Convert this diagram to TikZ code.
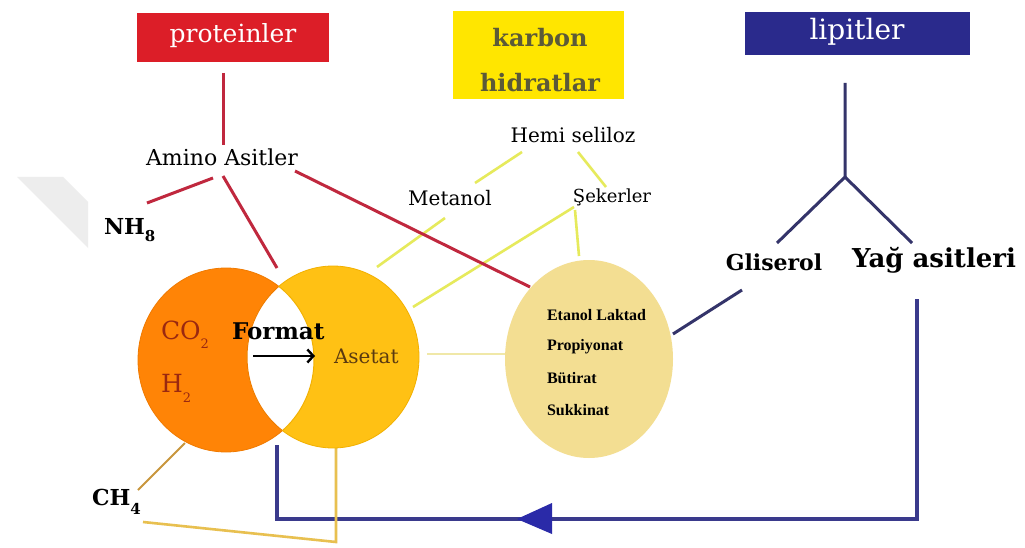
\documentclass[tikz,border=0pt]{standalone}
\usepackage{fontspec}
\setmainfont{DejaVu Serif}
\newfontfamily\timesf{Liberation Serif}
\usetikzlibrary{shapes.geometric,arrows.meta}
\definecolor{protRed}{HTML}{DC1E28}
\definecolor{karbYel}{HTML}{FFE600}
\definecolor{lipBlue}{HTML}{2A2A8C}
\definecolor{lnRed}{HTML}{C0283E}
\definecolor{lnYel}{HTML}{E6EA5C}
\definecolor{lnPale}{HTML}{F0E8A8}
\definecolor{lnNavy}{HTML}{34346A}
\definecolor{lnLoop}{HTML}{3A3A8C}
\definecolor{arrBlue}{HTML}{2A2AA8}
\definecolor{ellFill}{HTML}{F3DE92}
\definecolor{orgFill}{HTML}{FF8406}
\definecolor{orgLine}{HTML}{F07A00}
\definecolor{gldFill}{HTML}{FFC114}
\definecolor{gldLine}{HTML}{F2B000}
\definecolor{ch4Brown}{HTML}{C8963C}
\definecolor{ch4Gold}{HTML}{E8C050}
\definecolor{co2Red}{HTML}{9A2810}
\definecolor{asBrown}{HTML}{5A3A10}
\definecolor{karbTxt}{HTML}{5C5A38}
\newcommand{\fs}[1]{\fontsize{#1}{#1}\selectfont}
\tikzset{
  lbl/.style={inner sep=0pt, outer sep=0pt},
  titlebox/.style={rectangle, inner sep=0pt, outer sep=0pt},
  redln/.style={draw=lnRed, line width=3pt},
  yelln/.style={draw=lnYel, line width=2.6pt},
  navyln/.style={draw=lnNavy, line width=3pt},
  loopln/.style={draw=lnLoop, line width=3.2pt},
  mixtxt/.style={inner sep=0pt, outer sep=0pt, anchor=west, font=\timesf\fs{16}\bfseries},
}
\begin{document}
\begin{tikzpicture}[x=1pt,y=-1pt]
\useasboundingbox (0,0) rectangle (1025,548);
\fill[white] (0,0) rectangle (1025,548);
% faint watermark
\fill[black!7] (17,177) -- (63,177) -- (88,202) -- (88,248) -- cycle;

% title boxes
\node[titlebox, fill=protRed, minimum width=192, minimum height=49] (prot) at (233,37.5) {};
\node[lbl, text=white] at (233,36) {\fs{25}proteinler};
\node[titlebox, fill=karbYel, minimum width=171, minimum height=88] (karb) at (538.5,55) {};
\node[lbl, text=karbTxt] (karbA) at (540,38) {\fs{24}\bfseries karbon};
\node[lbl, text=karbTxt] (karbB) at (540,83) {\fs{24}\bfseries hidratlar};
\node[titlebox, fill=lipBlue, minimum width=225, minimum height=43] (lip) at (857.5,33.5) {};
\node[lbl, text=white] at (857,32) {\fs{28}lipitler};

% text nodes
\node[lbl] (amino) at (222,157) {\fs{22}Amino Asitler};
\node[lbl, anchor=west] (nh) at (104,230) {\fs{22}\bfseries NH\raisebox{-0.35em}{\fs{15}8}};
\node[lbl] (hemi) at (573,135) {\fs{20}Hemi seliloz};
\node[lbl] (metanol) at (450,198) {\fs{20}Metanol};
\node[lbl] (seker) at (612,197) {\fs{18}Şekerler};
\node[lbl] (glis) at (774,262) {\fs{22}\bfseries Gliserol};
\node[lbl] (yag) at (934,260) {\fs{26}\bfseries Yağ asitleri};
\node[lbl, anchor=west] (ch4) at (92,502) {\fs{22}\bfseries CH\raisebox{-0.4em}{\fs{15}4}};

% named points for connectors
\coordinate (protB) at (223,73);
\coordinate (aminoT) at (223,145);
\coordinate (aminoL) at (213,178);
\coordinate (nhT) at (147,203);
\coordinate (aminoM) at (223,176);
\coordinate (circT) at (277,268);
\coordinate (aminoR) at (295,171);
\coordinate (ellTL) at (530,287);
\coordinate (hemiL) at (522,152);
\coordinate (metT) at (475,183);
\coordinate (hemiR) at (578,152);
\coordinate (sekT) at (606,187);
\coordinate (metB) at (445,218);
\coordinate (asTR) at (377,267);
\coordinate (sekB) at (574,207);
\coordinate (asR) at (413,307);
\coordinate (sekB2) at (575,210);
\coordinate (ellT) at (579,256);
\coordinate (asE) at (427,354);
\coordinate (ellL) at (505,354);
\coordinate (lipB) at (845,83);
\coordinate (fork) at (845,177);
\coordinate (glisT) at (777,243);
\coordinate (yagT) at (912,243);
\coordinate (glisB) at (742,290);
\coordinate (ellR) at (673,334);
\coordinate (yagB) at (917,299);
\coordinate (loopR) at (917,519);
\coordinate (loopL) at (277,519);
\coordinate (circB) at (277,445);
\coordinate (orgB) at (185,443);
\coordinate (ch4T) at (138,490);
\coordinate (ch4R) at (143,522);
\coordinate (goldC) at (336,542);
\coordinate (gldB) at (336,448);

% connectors
\draw[redln] (protB) -- (aminoT);
\draw[redln] (aminoL) -- (nhT);
\draw[redln] (aminoM) -- (circT);
\draw[yelln] (hemiL) -- (metT);
\draw[yelln] (hemiR) -- (sekT);
\draw[yelln] (metB) -- (asTR);
\draw[yelln] (sekB) -- (asR);
\draw[yelln] (sekB2) -- (ellT);
\draw[redln] (aminoR) -- (ellTL);
\draw[draw=lnPale, line width=2.6pt] (asE) -- (ellL);
\draw[navyln] (lipB) -- (fork) -- (glisT);
\draw[navyln] (fork) -- (yagT);
\draw[navyln] (glisB) -- (ellR);
\draw[loopln] (yagB) -- (loopR) -- (loopL) -- (circB);
\draw[ch4Brown, line width=2pt] (orgB) -- (ch4T);
\draw[ch4Gold, line width=2.6pt] (ch4R) -- (goldC) -- (gldB);
\fill[arrBlue] (517,519) -- (552,503) -- (552,534) -- cycle;

% circles
\node[ellipse, fill=orgFill, draw=orgLine, line width=0.8pt, minimum width=176, minimum height=184, inner sep=0pt] (co2c) at (226,360) {};
\node[ellipse, fill=gldFill, draw=gldLine, line width=0.8pt, minimum width=172, minimum height=182, inner sep=0pt] (asc) at (333,357) {};
\begin{scope}
\clip (226,360) ellipse [x radius=88, y radius=92];
\fill[white] (333,357) ellipse [x radius=86, y radius=91];
\draw[orgLine, line width=1pt] (333,357) ellipse [x radius=86, y radius=91];
\end{scope}
\begin{scope}
\clip (333,357) ellipse [x radius=86, y radius=91];
\draw[gldLine, line width=1pt] (226,360) ellipse [x radius=88, y radius=92];
\end{scope}

% mixed acids ellipse
\node[ellipse, fill=ellFill, minimum width=168, minimum height=198, inner sep=0pt] (mix) at (589,359) {};
\node[mixtxt] (et) at (547,315) {Etanol Laktad};
\node[mixtxt] (pr) at (547,347) {Propiyonat};
\node[mixtxt] (bu) at (547,378) {Bütirat};
\node[mixtxt] (su) at (547,410) {Sukkinat};

% circle texts
\node[lbl, anchor=west, text=co2Red] (co2) at (161,335) {\fs{25}CO\raisebox{-0.35em}{\fs{13}2}};
\node[lbl, anchor=west, text=co2Red] (h2) at (161,388) {\fs{25}H\raisebox{-0.4em}{\fs{13}2}};
\node[lbl, anchor=west] (fmt) at (232,331) {\fs{23}\bfseries Format};
\node[lbl, anchor=west, text=asBrown] (aset) at (334,356) {\fs{20}Asetat};
\coordinate (arrS) at (253,356);
\coordinate (arrE) at (315,356);
\draw[black, line width=2.4pt, -{Straight Barb[length=6pt,width=13pt]}] (arrS) -- (arrE);
\end{tikzpicture}
\end{document}
